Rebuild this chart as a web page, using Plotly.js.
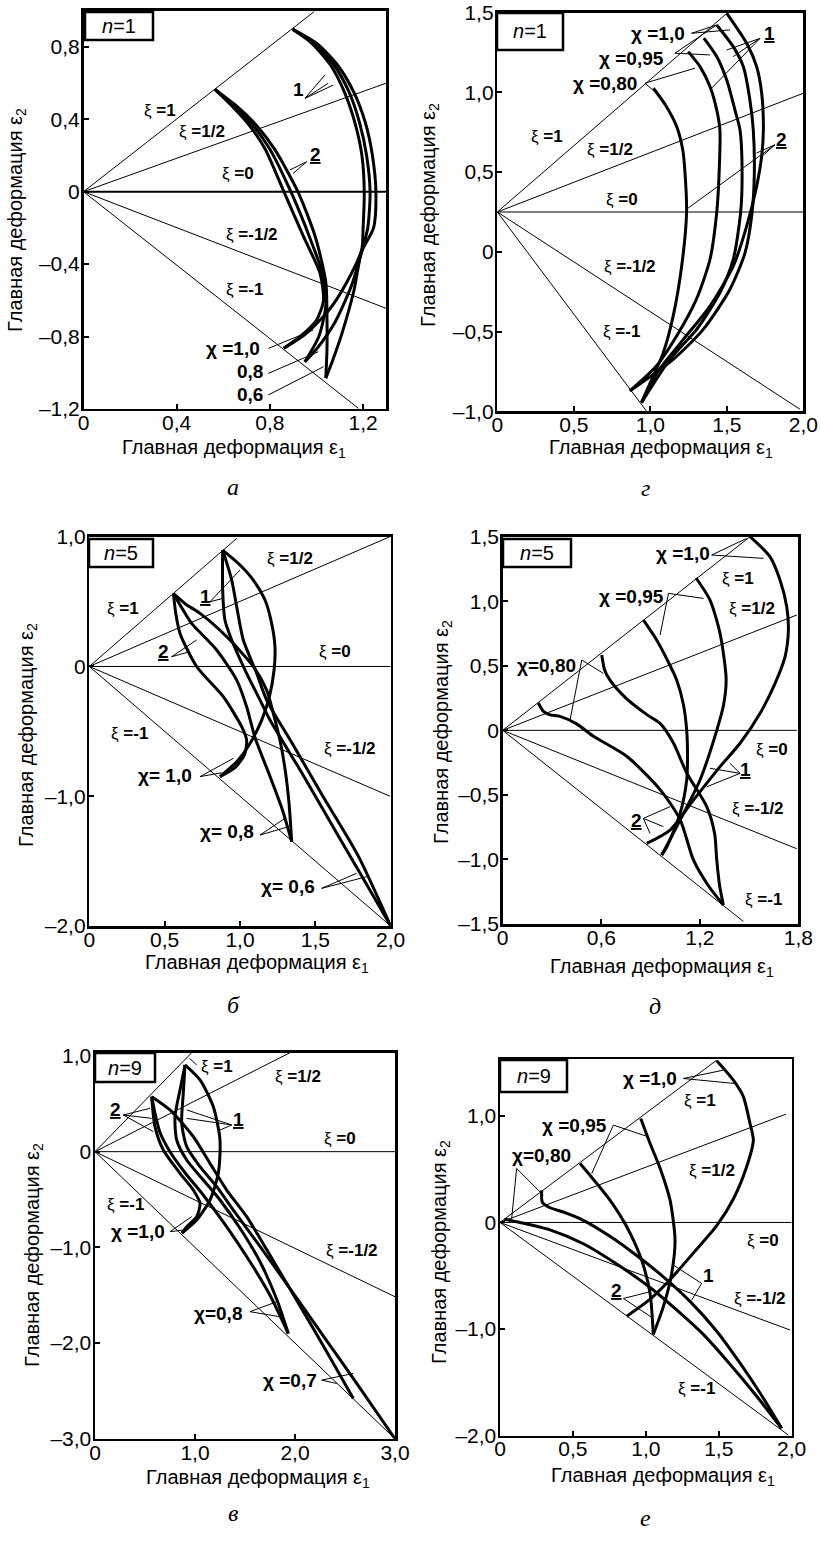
<!DOCTYPE html>
<html><head><meta charset="utf-8">
<script src="https://cdn.plot.ly/plotly-3.0.1.min.js"></script>
<style>body{margin:0;background:#fff}#chart{width:821px;height:1543px}</style>
</head><body><div id="chart"></div>
<script>
// ===================== DATA =====================
// ---- Panel а (n=1) ----
const a_xticks = [0, 0.4, 0.8, 1.2];
const a_xticklabels = ['0', '0,4', '0,8', '1,2'];
const a_yticks = [-1.2, -0.8, -0.4, 0, 0.4, 0.8];
const a_yticklabels = ['–1,2', '–0,8', '–0,4', '0', '0,4', '0,8'];
const a_origin = [0, 0];
const a_rayEnds = [[0.99, 0.995], [1.30, 0.60], [1.30, 0], [1.30, -0.645], [1.18, -1.197]];
const a_chi10_c1 = [[0.898,0.897],[0.98,0.82],[1.06,0.7],[1.12,0.55],[1.165,0.38],[1.195,0.2],[1.205,0.0],[1.2,-0.2],[1.194,-0.32],[1.13,-0.5],[1.05,-0.66],[0.95,-0.79],[0.86,-0.865]];
const a_chi08_c1 = [[0.898,0.897],[0.99,0.82],[1.075,0.7],[1.14,0.55],[1.185,0.38],[1.215,0.2],[1.23,0.0],[1.22,-0.2],[1.194,-0.33],[1.15,-0.52],[1.08,-0.72],[1.0,-0.87],[0.95,-0.94]];
const a_chi06_c1 = [[0.898,0.897],[1.0,0.82],[1.09,0.7],[1.16,0.55],[1.21,0.38],[1.24,0.2],[1.255,0.0],[1.245,-0.2],[1.194,-0.33],[1.16,-0.55],[1.11,-0.78],[1.07,-0.93],[1.04,-1.03]];
const a_chi10_c2 = [[0.564,0.565],[0.64,0.47],[0.71,0.37],[0.78,0.235],[0.86,0.0],[0.945,-0.25],[1.015,-0.45],[1.03,-0.6],[1.0,-0.71],[0.93,-0.8],[0.86,-0.865]];
const a_chi08_c2 = [[0.564,0.565],[0.65,0.47],[0.725,0.37],[0.8,0.235],[0.89,0.0],[0.97,-0.25],[1.03,-0.47],[1.04,-0.63],[1.01,-0.8],[0.95,-0.94]];
const a_chi06_c2 = [[0.564,0.565],[0.66,0.47],[0.74,0.37],[0.82,0.235],[0.92,0.0],[0.995,-0.25],[1.04,-0.5],[1.045,-0.7],[1.045,-0.87],[1.04,-1.03]];
const a_labels = [
  ['ξ <b>=1</b>', 0.329, 0.451, 'xi'],
  ['ξ <b>=1/2</b>', 0.507, 0.331, 'xi'],
  ['ξ <b>=0</b>', 0.665, 0.101, 'xi'],
  ['ξ <b>=-1/2</b>', 0.722, -0.239, 'xi'],
  ['ξ <b>=-1</b>', 0.693, -0.543, 'xi'],
  ['<b>1</b>', 0.922, 0.562, 'num'],
  ['<b><u>2</u></b>', 0.994, 0.208, 'num'],
  ['<b>χ =1,0</b>', 0.643, -0.866, 'chi'],
  ['<b>0,8</b>', 0.715, -0.994, 'chi'],
  ['<b>0,6</b>', 0.715, -1.123, 'chi']
];
const a_leaders = [
  [0.951,0.516,1.036,0.645],[0.951,0.516,1.05,0.599],[0.951,0.516,1.072,0.589],
  [0.958,0.166,0.886,0.12],[0.958,0.166,0.9,0.101],
  [0.793,-0.866,0.986,-0.764],
  [0.793,-1.004,1.008,-0.884],
  [0.793,-1.123,1.03,-0.967]
];

// ---- Panel г (n=1) ----
const g_xticks = [0, 0.5, 1, 1.5, 2];
const g_xticklabels = ['0', '0,5', '1,0', '1,5', '2,0'];
const g_yticks = [-1, -0.5, 0, 0.5, 1, 1.5];
const g_yticklabels = ['–1,0', '–0,5', '0', '0,5', '1,0', '1,5'];
const g_origin = [0, 0.25];
const g_rayEnds = [[1.5, 1.496], [2.0, 0.995], [2.0, 0.25], [1.978, -0.987], [0.976, -1.0]];
const g_chi080 = [[1.02,1.026],[1.10,0.92],[1.172,0.787],[1.212,0.64],[1.227,0.494],[1.237,0.244],[1.205,-0.09],[1.15,-0.40],[1.085,-0.632],[1.0,-0.82],[0.943,-0.945]];
const g_chi095_c2 = [[1.248,1.256],[1.325,1.162],[1.39,1.037],[1.434,0.891],[1.455,0.766],[1.45,0.5],[1.434,0.244],[1.39,-0.048],[1.30,-0.30],[1.172,-0.528],[1.04,-0.716],[0.867,-0.872]];
const g_chi095_c1 = [[1.35,1.34],[1.434,1.225],[1.499,1.079],[1.553,0.891],[1.586,0.766],[1.6,0.494],[1.59,0.244],[1.542,-0.048],[1.455,-0.257],[1.303,-0.486],[1.128,-0.674],[0.943,-0.945]];
const g_chi10_c2 = [[1.434,1.423],[1.542,1.287],[1.608,1.162],[1.651,0.953],[1.673,0.766],[1.68,0.494],[1.665,0.244],[1.619,-0.006],[1.52,-0.236],[1.346,-0.486],[1.15,-0.674],[0.867,-0.872]];
const g_chi10_c1 = [[1.5,1.496],[1.63,1.308],[1.695,1.162],[1.728,0.995],[1.739,0.766],[1.728,0.6],[1.695,0.411],[1.63,0.161],[1.542,-0.09],[1.39,-0.34],[1.216,-0.549],[1.05,-0.75],[0.943,-0.945]];
const g_labels = [
  ['<b>χ =1,0</b>', 1.052, 1.371, 'chi'],
  ['<b>χ =0,95</b>', 0.878, 1.214, 'chi'],
  ['<b>χ =0,80</b>', 0.704, 1.058, 'chi'],
  ['<b><u>1</u></b>', 1.782, 1.371, 'num'],
  ['<b><u>2</u></b>', 1.858, 0.703, 'num'],
  ['ξ <b>=1</b>', 0.322, 0.724, 'xi'],
  ['ξ <b>=1/2</b>', 0.736, 0.641, 'xi'],
  ['ξ <b>=0</b>', 0.813, 0.328, 'xi'],
  ['ξ <b>=-1/2</b>', 0.867, -0.09, 'xi'],
  ['ξ <b>=-1</b>', 0.813, -0.497, 'xi']
];
const g_leaders = [
  [1.27,1.371,1.434,1.423],[1.27,1.371,1.52,1.392],
  [1.161,1.246,1.434,1.423],[1.161,1.246,1.39,1.235],
  [0.965,1.058,1.292,1.152],[0.965,1.058,1.041,0.995],
  [1.717,1.339,1.499,1.266],[1.717,1.339,1.542,1.225],[1.717,1.339,1.39,1.016],
  [1.815,0.672,1.695,0.62],[1.815,0.672,1.717,0.588],[1.815,0.672,1.248,0.275]
];

// ---- Panel б (n=5) ----
const b_xticks = [0, 0.5, 1, 1.5, 2];
const b_xticklabels = ['0', '0,5', '1,0', '1,5', '2,0'];
const b_yticks = [-2, -1, 0, 1];
const b_yticklabels = ['–2,0', '–1,0', '0', '1,0'];
const b_origin = [0, 0];
const b_rayEnds = [[0.978, 0.987], [1.995, 1.0], [2.0, 0], [1.995, -1.0], [2.0, -2.0]];
const b_chi10_c1 = [[0.885,0.897],[1.0,0.782],[1.088,0.666],[1.166,0.512],[1.21,0.332],[1.232,0.152],[1.226,-0.027],[1.195,-0.233],[1.144,-0.413],[1.066,-0.593],[0.978,-0.734],[0.867,-0.849]];
const b_chi10_c2 = [[0.558,0.563],[0.575,0.4],[0.602,0.255],[0.712,0.0],[0.889,-0.233],[1.011,-0.464],[1.044,-0.567],[1.03,-0.68],[0.967,-0.78],[0.867,-0.849]];
const b_chi08_c1 = [[0.558,0.563],[0.64,0.48],[0.735,0.409],[0.912,0.229],[1.088,0.0],[1.177,-0.182],[1.221,-0.361],[1.265,-0.567],[1.3,-0.8],[1.325,-1.05],[1.343,-1.35]];
const b_chi08_c2 = [[0.558,0.563],[0.62,0.44],[0.679,0.332],[0.845,0.127],[0.978,-0.105],[1.044,-0.31],[1.1,-0.55],[1.2,-0.85],[1.28,-1.1],[1.343,-1.35]];
const b_chi06_c1 = [[0.885,0.897],[0.885,0.589],[0.9,0.358],[0.945,0.204],[1.044,-0.053],[1.133,-0.259],[1.199,-0.413],[1.4,-0.8],[1.6,-1.2],[1.8,-1.6],[2.0,-2.0]];
const b_chi06_c2 = [[0.885,0.897],[0.945,0.666],[0.978,0.461],[1.022,0.204],[1.111,-0.053],[1.177,-0.259],[1.35,-0.6],[1.55,-1.0],[1.78,-1.45],[2.0,-2.0]];
const b_labels = [
  ['ξ <b>=1/2</b>', 1.332, 0.833, 'xi'],
  ['ξ <b>=1</b>', 0.226, 0.448, 'xi'],
  ['ξ <b>=0</b>', 1.63, 0.114, 'xi'],
  ['ξ <b>=-1</b>', 0.27, -0.516, 'xi'],
  ['ξ <b>=-1/2</b>', 1.73, -0.631, 'xi'],
  ['<b><u>1</u></b>', 0.768, 0.538, 'num'],
  ['<b><u>2</u></b>', 0.491, 0.114, 'num'],
  ['<b>χ= 1,0</b>', 0.502, -0.837, 'chi'],
  ['<b>χ= 0,8</b>', 0.912, -1.273, 'chi'],
  ['<b>χ= 0,6</b>', 1.321, -1.697, 'chi']
];
const b_leaders = [
  [0.801,0.499,1.0,0.743],[0.801,0.499,0.889,0.525],
  [0.546,0.075,0.712,0.204],[0.546,0.075,0.668,0.114],
  [0.735,-0.849,0.956,-0.708],[0.735,-0.849,0.878,-0.819],
  [1.133,-1.299,1.299,-1.17],[1.133,-1.299,1.321,-1.235],
  [1.542,-1.71,1.774,-1.594],[1.542,-1.71,1.841,-1.62]
];

// ---- Panel д (n=5) ----
const d_xticks = [0, 0.6, 1.2, 1.8];
const d_xticklabels = ['0', '0,6', '1,2', '1,8'];
const d_yticks = [-1.5, -1, -0.5, 0, 0.5, 1, 1.5];
const d_yticklabels = ['–1,5', '–1,0', '–0,5', '0', '0,5', '1,0', '1,5'];
const d_origin = [0, 0];
const d_rayEnds = [[1.506, 1.5], [1.79, 0.893], [1.79, 0], [1.79, -0.917], [1.465, -1.48]];
const d_chi10 = [[1.506,1.5],[1.627,1.345],[1.688,1.164],[1.729,0.958],[1.739,0.777],[1.719,0.571],[1.658,0.364],[1.567,0.132],[1.445,-0.1],[1.323,-0.281],[1.161,-0.54],[1.019,-0.772],[0.877,-0.875]];
const d_chi095_c1 = [[1.177,1.18],[1.262,1.009],[1.323,0.751],[1.36,0.4],[1.345,0.2],[1.303,0.0],[1.201,-0.385],[1.08,-0.695],[0.968,-0.966]];
const d_chi095_c2 = [[0.856,0.855],[0.937,0.7],[1.0,0.55],[1.059,0.39],[1.1,0.2],[1.12,0.0],[1.125,-0.2],[1.12,-0.385],[1.08,-0.643],[1.0,-0.9],[0.968,-0.966]];
const d_chi080_c1 = [[0.603,0.583],[0.62,0.47],[0.653,0.389],[0.75,0.25],[0.88,0.12],[0.958,0.054],[1.04,-0.1],[1.12,-0.33],[1.242,-0.591],[1.29,-0.8],[1.303,-1.004],[1.32,-1.2],[1.343,-1.353]];
const d_chi080_c2 = [[0.217,0.212],[0.248,0.147],[0.29,0.12],[0.349,0.108],[0.45,0.05],[0.552,-0.046],[0.755,-0.201],[0.958,-0.459],[1.08,-0.691],[1.161,-1.004],[1.25,-1.2],[1.343,-1.353]];
const d_labels = [
  ['<b>χ =1,0</b>', 1.10, 1.371, 'chi'],
  ['ξ <b>=1</b>', 1.435, 1.177, 'xi'],
  ['<b>χ =0,95</b>', 0.785, 1.035, 'chi'],
  ['ξ <b>=1/2</b>', 1.516, 0.945, 'xi'],
  ['<b>χ=0,80</b>', 0.268, 0.506, 'chi'],
  ['ξ <b>=0</b>', 1.638, -0.152, 'xi'],
  ['<b><u>1</u></b>', 1.475, -0.307, 'num'],
  ['ξ <b>=-1/2</b>', 1.556, -0.604, 'xi'],
  ['<b><u>2</u></b>', 0.816, -0.695, 'num'],
  ['ξ <b>=-1</b>', 1.587, -1.314, 'xi']
];
const d_leaders = [
  [1.272,1.358,1.485,1.487],[1.272,1.358,1.587,1.332],
  [1.009,1.061,1.222,1.022],[1.009,1.061,0.958,0.738],
  [0.481,0.545,0.613,0.441],[0.481,0.545,0.41,0.08],
  [1.445,-0.333,1.262,-0.294],[1.445,-0.333,1.242,-0.437],[1.445,-0.333,1.384,-0.256],
  [0.856,-0.682,1.019,-0.591],[0.856,-0.682,0.978,-0.746],[0.856,-0.682,0.897,-0.798]
];

// ---- Panel в (n=9) ----
const v_xticks = [0, 1, 2, 3];
const v_xticklabels = ['0', '1,0', '2,0', '3,0'];
const v_yticks = [-3, -2, -1, 0, 1];
const v_yticklabels = ['–3,0', '–2,0', '–1,0', '0', '1,0'];
const v_origin = [0, 0];
const v_rayEnds = [[0.967, 1.034], [1.95, 1.034], [3.0, 0], [3.0, -1.516], [3.0, -3.0]];
const v_chi10_c1 = [[0.9,0.906],[1.05,0.749],[1.183,0.47],[1.25,0.122],[1.233,-0.226],[1.15,-0.505],[1.017,-0.714],[0.87,-0.85]];
const v_chi10_c2 = [[0.567,0.575],[0.6,0.261],[0.683,0.017],[0.85,-0.226],[0.983,-0.4],[1.05,-0.54],[1.017,-0.679],[0.917,-0.784],[0.87,-0.85]];
const v_chi08_c1 = [[0.9,0.906],[0.85,0.645],[0.8,0.366],[0.817,0.122],[0.917,-0.087],[1.083,-0.296],[1.25,-0.505],[1.45,-0.8],[1.65,-1.15],[1.82,-1.55],[1.933,-1.9]];
const v_chi08_c2 = [[0.567,0.575],[0.6,0.4],[0.65,0.2],[0.75,0.0],[0.9,-0.22],[1.08,-0.45],[1.3,-0.76],[1.55,-1.15],[1.75,-1.5],[1.933,-1.9]];
const v_chi07_c1 = [[0.9,0.906],[0.883,0.61],[0.867,0.296],[0.917,0.052],[1.05,-0.157],[1.217,-0.366],[1.383,-0.61],[1.65,-0.99],[1.95,-1.43],[2.3,-1.95],[2.65,-2.47],[3.0,-3.0]];
const v_chi07_c2 = [[0.567,0.575],[0.75,0.436],[0.983,0.157],[1.15,-0.122],[1.317,-0.401],[1.517,-0.679],[1.8,-1.17],[2.1,-1.7],[2.35,-2.15],[2.583,-2.578]];
const v_labels = [
  ['ξ <b>=1</b>', 1.217, 0.889, 'xi'],
  ['ξ <b>=1/2</b>', 2.033, 0.784, 'xi'],
  ['ξ <b>=0</b>', 2.45, 0.139, 'xi'],
  ['ξ <b>=-1</b>', 0.3, -0.557, 'xi'],
  ['ξ <b>=-1/2</b>', 2.567, -1.028, 'xi'],
  ['<b><u>2</u></b>', 0.2, 0.436, 'num'],
  ['<b><u>1</u></b>', 1.433, 0.331, 'num'],
  ['<b>χ =1,0</b>', 0.433, -0.836, 'chi'],
  ['<b>χ=0,8</b>', 1.233, -1.69, 'chi'],
  ['<b>χ =0,7</b>', 1.95, -2.387, 'chi']
];
const v_leaders = [
  [0.943,0.976,1.017,0.906],
  [0.283,0.383,0.55,0.453],[0.283,0.383,0.567,0.348],[0.283,0.383,0.583,0.209],
  [1.367,0.279,0.917,0.436],[1.367,0.279,0.917,0.348],[1.367,0.279,1.25,0.226],
  [0.75,-0.836,0.967,-0.679],[0.75,-0.836,0.883,-0.819],
  [1.55,-1.672,1.817,-1.568],[1.55,-1.672,1.85,-1.725],
  [2.267,-2.387,2.583,-2.317],[2.267,-2.387,2.417,-2.422]
];

// ---- Panel е (n=9) ----
const e_xticks = [0, 0.5, 1, 1.5, 2];
const e_xticklabels = ['0', '0,5', '1,0', '1,5', '2,0'];
const e_yticks = [-2, -1, 0, 1];
const e_yticklabels = ['–2,0', '–1,0', '0', '1,0'];
const e_origin = [0, 0];
const e_rayEnds = [[1.486, 1.522], [1.961, 1.016], [2.0, 0], [1.989, -1.009], [1.977, -1.994]];
const e_chi10 = [[1.486,1.516],[1.6,1.334],[1.669,1.178],[1.714,0.928],[1.737,0.772],[1.691,0.522],[1.6,0.22],[1.486,-0.03],[1.33,-0.28],[1.17,-0.53],[1.029,-0.72],[0.869,-0.88]];
const e_chi095_c1 = [[0.965,0.975],[1.029,0.741],[1.1,0.5],[1.166,0.209],[1.2,-0.166],[1.177,-0.478],[1.12,-0.79],[1.051,-1.05]];
const e_chi095_c2 = [[0.549,0.553],[0.663,0.366],[0.754,0.209],[0.869,-0.041],[0.971,-0.353],[1.029,-0.666],[1.051,-1.05]];
const e_chi080_c1 = [[0.286,0.30],[0.29,0.19],[0.34,0.14],[0.45,0.09],[0.571,0.02],[0.754,-0.13],[0.937,-0.31],[1.12,-0.51],[1.303,-0.74],[1.486,-1.02],[1.646,-1.32],[1.783,-1.6],[1.931,-1.931]];
const e_chi080_c2 = [[0.03,0.03],[0.137,0.0],[0.343,-0.07],[0.571,-0.2],[0.8,-0.39],[1.029,-0.61],[1.211,-0.82],[1.394,-1.05],[1.577,-1.33],[1.76,-1.63],[1.931,-1.931]];
const e_labels = [
  ['<b>χ =1,0</b>', 1.029, 1.35, 'chi'],
  ['ξ <b>=1</b>', 1.371, 1.147, 'xi'],
  ['<b>χ =0,95</b>', 0.514, 0.913, 'chi'],
  ['<b>χ=0,80</b>', 0.286, 0.631, 'chi'],
  ['ξ <b>=1/2</b>', 1.451, 0.491, 'xi'],
  ['ξ <b>=0</b>', 1.806, -0.166, 'xi'],
  ['<b>1</b>', 1.429, -0.494, 'num'],
  ['ξ <b>=-1/2</b>', 1.783, -0.713, 'xi'],
  ['<b><u>2</u></b>', 0.8, -0.634, 'num'],
  ['ξ <b>=-1</b>', 1.349, -1.556, 'xi']
];
const e_leaders = [
  [1.257,1.35,1.531,1.428],[1.257,1.35,1.611,1.303],
  [0.777,0.913,1.017,0.803],[0.777,0.913,0.629,0.459],
  [0.114,0.506,0.297,0.256],[0.114,0.506,0.08,0.037],
  [1.383,-0.572,1.189,-0.4],[1.383,-0.572,1.314,-0.728],
  [0.846,-0.713,1.029,-0.65],[0.846,-0.713,1.051,-0.9]
];

// ===================== LAYOUT / STYLE =====================
const W = 821, H = 1543;
const FONT = '"Liberation Sans", Arial, sans-serif';
const SERIF = '"Liberation Serif", "Times New Roman", serif';
const X_TITLE = 'Главная деформация ε<sub>1</sub>';
const Y_TITLE = 'Главная деформация ε<sub>2</sub>';

const panels = [
  {box:[83.5,386.4,10.7,408.9], xr:[0,1.3], yr:[-1.2,1.0], xt:a_xticks, xtl:a_xticklabels, yt:a_yticks, ytl:a_yticklabels,
   origin:a_origin, rays:a_rayEnds, zeroW:2, curves:[a_chi10_c1,a_chi08_c1,a_chi06_c1,a_chi10_c2,a_chi08_c2,a_chi06_c2],
   labels:a_labels, leaders:a_leaders, nbox:[85,12,153,40], ntext:'<i>n</i>=1', letter:['а',233,487], xtitle:[234,449], ytitle:[16,220]},
  {box:[497.3,803.3,12.7,411.3], xr:[0,2], yr:[-1,1.5], xt:g_xticks, xtl:g_xticklabels, yt:g_yticks, ytl:g_yticklabels,
   origin:g_origin, rays:g_rayEnds, zeroW:1, curves:[g_chi080,g_chi095_c2,g_chi095_c1,g_chi10_c2,g_chi10_c1],
   labels:g_labels, leaders:g_leaders, nbox:[497,13,563,50], ntext:'<i>n</i>=1', letter:['г',645,488], xtitle:[661,449], ytitle:[430,215]},
  {box:[89.3,390.7,536.7,926], xr:[0,2], yr:[-2,1], xt:b_xticks, xtl:b_xticklabels, yt:b_yticks, ytl:b_yticklabels,
   origin:b_origin, rays:b_rayEnds, zeroW:1, curves:[b_chi10_c1,b_chi10_c2,b_chi08_c1,b_chi08_c2,b_chi06_c1,b_chi06_c2],
   labels:b_labels, leaders:b_leaders, nbox:[89,539,153,567], ntext:'<i>n</i>=5', letter:['б',233,1005], xtitle:[257,964], ytitle:[27,735]},
  {box:[502.7,798.4,536.7,924], xr:[0,1.8], yr:[-1.5,1.5], xt:d_xticks, xtl:d_xticklabels, yt:d_yticks, ytl:d_yticklabels,
   origin:d_origin, rays:d_rayEnds, zeroW:1, curves:[d_chi10,d_chi095_c1,d_chi095_c2,d_chi080_c1,d_chi080_c2],
   labels:d_labels, leaders:d_leaders, nbox:[503,539,571,567], ntext:'<i>n</i>=5', letter:['д',655,1006], xtitle:[662,967], ytitle:[442,732]},
  {box:[95,395,1052.7,1438.8], xr:[0,3], yr:[-3,1.034], xt:v_xticks, xtl:v_xticklabels, yt:v_yticks, ytl:v_yticklabels,
   origin:v_origin, rays:v_rayEnds, zeroW:1, curves:[v_chi10_c1,v_chi10_c2,v_chi08_c1,v_chi08_c2,v_chi07_c1,v_chi07_c2],
   labels:v_labels, leaders:v_leaders, nbox:[95,1053,155,1082], ntext:'<i>n</i>=9', letter:['в',233,1513], xtitle:[258,1478], ytitle:[33,1255]},
  {box:[500,791.7,1059.3,1435.7], xr:[0,2], yr:[-2,1.53], xt:e_xticks, xtl:e_xticklabels, yt:e_yticks, ytl:e_yticklabels,
   origin:e_origin, rays:e_rayEnds, zeroW:1, curves:[e_chi10,e_chi095_c1,e_chi095_c2,e_chi080_c1,e_chi080_c2],
   labels:e_labels, leaders:e_leaders, nbox:[500,1060,567,1092], ntext:'<i>n</i>=9', letter:['е',645,1518], xtitle:[663,1476], ytitle:[440,1252]}
];

const px = v => v / W;
const py = v => 1 - v / H;
const traces = [], shapes = [], annotations = [];
const layout = {
  width: W, height: H, margin: {l:0, r:0, t:0, b:0},
  paper_bgcolor: '#fff', plot_bgcolor: '#fff', showlegend: false, hovermode: false,
  shapes: shapes, annotations: annotations
};
const labelSize = {xi: 17, chi: 19, num: 19};

function paperText(x, y, text, font, extra) {
  return Object.assign({xref:'paper', yref:'paper', x:px(x), y:py(y), text:text, showarrow:false,
    xanchor:'center', yanchor:'middle', font:font}, extra || {});
}

panels.forEach((p, i) => {
  const k = i === 0 ? '' : String(i + 1);
  const xa = 'x' + k, ya = 'y' + k;
  const axCommon = {
    showline: true, linewidth: 2.5, linecolor: '#000', mirror: true,
    ticks: 'inside', ticklen: 5, tickwidth: 2, tickcolor: '#000',
    showgrid: false, zeroline: false, fixedrange: true,
    tickfont: {family: FONT, size: 21, color: '#000'}
  };
  layout['xaxis' + k] = Object.assign({}, axCommon, {
    domain: [px(p.box[0]), px(p.box[1])], range: p.xr, anchor: ya,
    tickmode: 'array', tickvals: p.xt, ticktext: p.xtl, ticklabelstandoff: -7
  });
  layout['yaxis' + k] = Object.assign({}, axCommon, {
    domain: [py(p.box[3]), py(p.box[2])], range: p.yr, anchor: xa,
    tickmode: 'array', tickvals: p.yt, ticktext: p.ytl, ticklabelstandoff: -3
  });
  p.rays.forEach((e, j) => {
    traces.push({type:'scatter', mode:'lines', xaxis:xa, yaxis:ya,
      x:[p.origin[0], e[0]], y:[p.origin[1], e[1]],
      line:{color:'#000', width: j === 2 ? p.zeroW : 1}});
  });
  p.curves.forEach(c => {
    traces.push({type:'scatter', mode:'lines', xaxis:xa, yaxis:ya,
      x:c.map(q => q[0]), y:c.map(q => q[1]),
      line:{color:'#000', width:3, shape:'spline', smoothing:0.7}});
  });
  p.leaders.forEach(s => {
    shapes.push({type:'line', xref:xa, yref:ya, x0:s[0], y0:s[1], x1:s[2], y1:s[3],
      line:{color:'#000', width:1}});
  });
  p.labels.forEach(l => {
    annotations.push({xref:xa, yref:ya, x:l[1], y:l[2], text:l[0], showarrow:false,
      xanchor:'center', yanchor:'middle',
      font:{family:FONT, size:labelSize[l[3]], color:'#000'}});
  });
  shapes.push({type:'rect', xref:'paper', yref:'paper',
    x0:px(p.nbox[0]), x1:px(p.nbox[2]), y0:py(p.nbox[3]), y1:py(p.nbox[1]),
    line:{color:'#000', width:2.5}, fillcolor:'#fff', layer:'above'});
  annotations.push(paperText((p.nbox[0]+p.nbox[2])/2, (p.nbox[1]+p.nbox[3])/2, p.ntext,
    {family:FONT, size:20, color:'#000'}));
  annotations.push(paperText(p.xtitle[0], p.xtitle[1], X_TITLE, {family:FONT, size:20, color:'#000'}));
  annotations.push(paperText(p.ytitle[0], p.ytitle[1], Y_TITLE, {family:FONT, size:20, color:'#000'}, {textangle:-90}));
  annotations.push(paperText(p.letter[1], p.letter[2], '<i>' + p.letter[0] + '</i>', {family:SERIF, size:24, color:'#000'}));
});

Plotly.newPlot('chart', traces, layout, {staticPlot:true, displayModeBar:false});
</script></body></html>
